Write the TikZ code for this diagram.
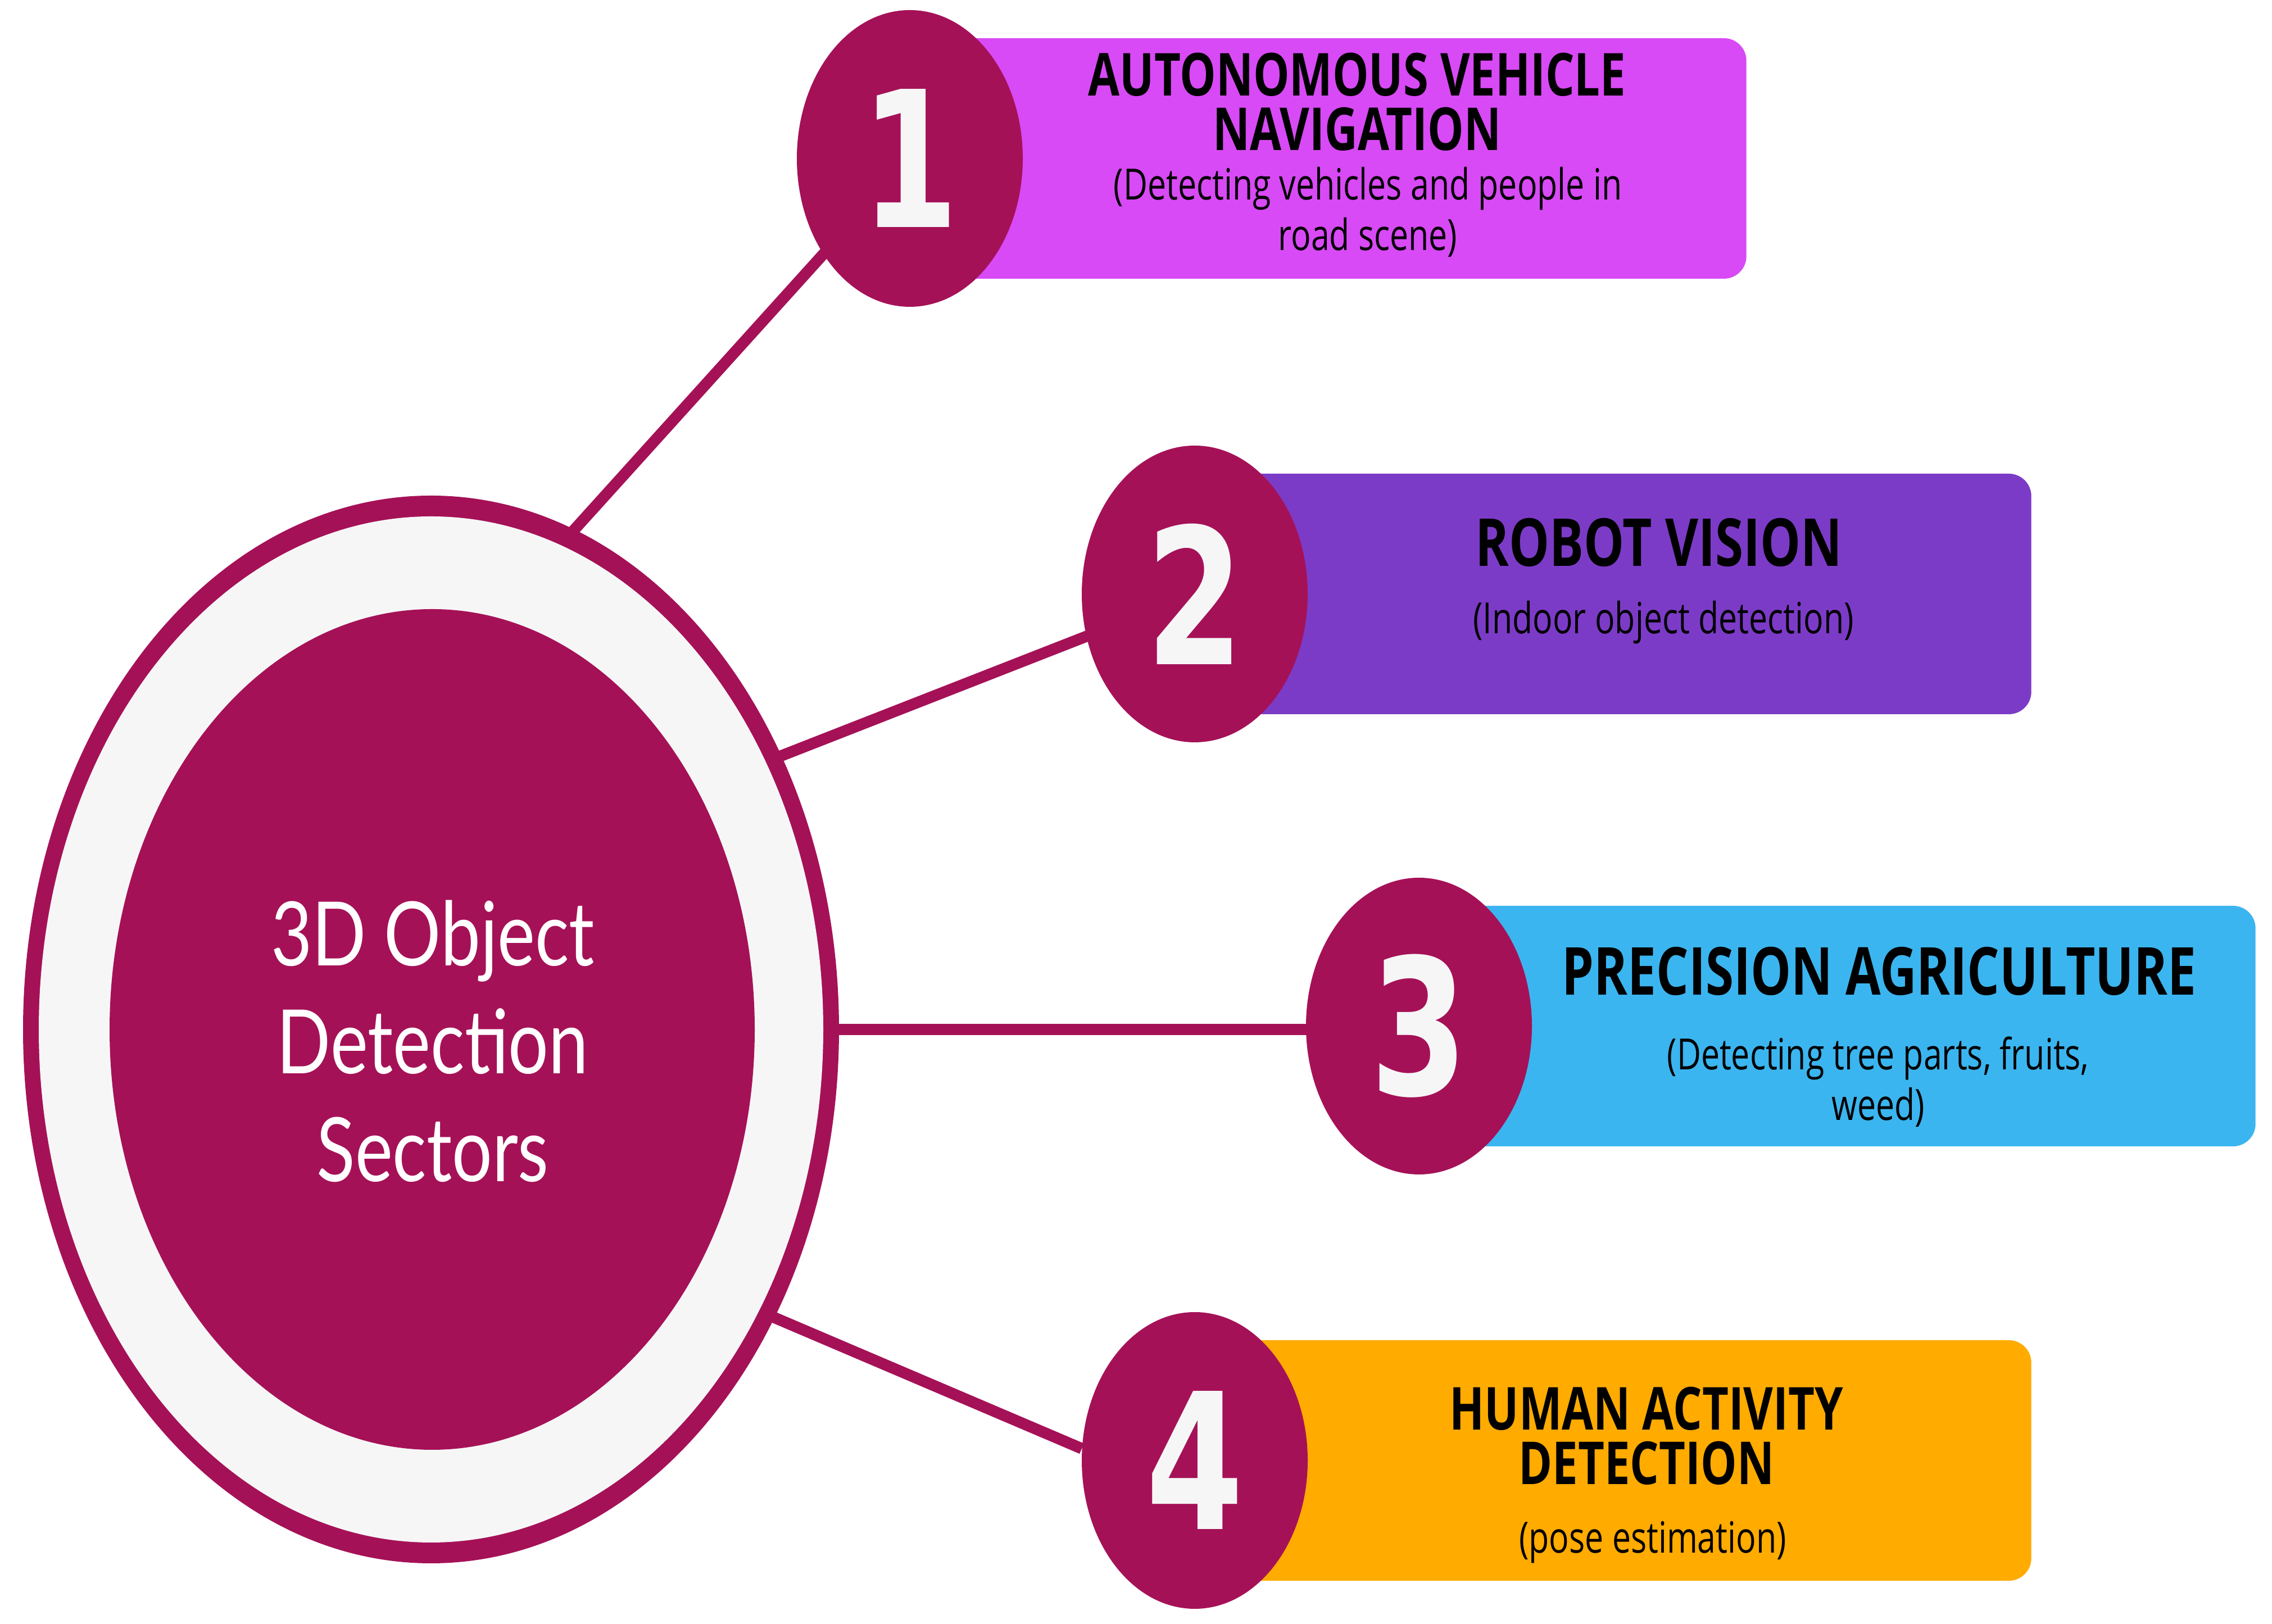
\documentclass[tikz,border=0pt]{standalone}
\usepackage{fontspec}
\usepackage{xcolor}
\usetikzlibrary{shapes.geometric,backgrounds,positioning}
\newfontfamily\hubfont[FakeStretch=0.8]{Lato}
\newfontfamily\boxfont[FakeStretch=0.77]{Open Sans}
\newfontfamily\numfont[FakeStretch=0.74]{DejaVu Sans}
\definecolor{wine}{HTML}{A51157}
\definecolor{ringgray}{HTML}{F6F6F6}
\definecolor{navpink}{HTML}{D84AF5}
\definecolor{robotpurple}{HTML}{7C3BC7}
\definecolor{agrisky}{HTML}{3BB5EF}
\definecolor{humanorange}{HTML}{FFAB00}

\begin{document}
\begin{tikzpicture}[hub node/.style={ellipse,fill=wine,inner sep=0pt,outer sep=0pt,minimum width=14.52cm,minimum height=19cm},
    core node/.style={ellipse,fill=wine,inner sep=0pt,minimum width=11.48cm,minimum height=14.96cm},
    hub label/.style={align=center,text=white,font=\hubfont\fontsize{45}{54.6}\selectfont},
    num node/.style={ellipse,fill=wine,inner sep=0pt,minimum width=4.02cm,minimum height=5.28cm,text=ringgray,font=\numfont\bfseries\fontsize{96}{96}\selectfont},
    box node/.style={rectangle,rounded corners=0.4cm,minimum width=14.88cm,minimum height=4.28cm,anchor=west,inner sep=0pt},
    title node/.style={align=center,font=\boxfont\bfseries\fontsize{30}{27.6}\selectfont},
    big title/.style={font=\boxfont\bfseries\fontsize{33.5}{33.5}\selectfont},
    note node/.style={align=center,font=\boxfont\fontsize{21.8}{25.5}\selectfont},
    link/.style={draw=wine,line width=0.2cm,shorten <=-3mm}]
    \useasboundingbox (0,0) rectangle (40.43,28.9);

    % hub with its grey ring
    \node[hub node] (hub) at (7.67,10.58) {};
    \fill[ringgray] (hub.center) ellipse [x radius=6.98cm, y radius=9.13cm];
    \node[core node] (core) at (7.69,10.58) {};
    \node[hub label] (label) at (7.70,10.37) {3D Object\\Detection\\Sectors};

    \node[num node] (1) at (16.19,26.08) {1};
    \node[num node] (2) at (21.26,18.33) {2};
    \node[num node] (3) at (25.25,10.64) {3};
    \node[num node] (4) at (21.26,2.91) {4};

    \begin{scope}[on background layer]
        \node[box node,fill=navpink] (b1) at (1.center) {};
        \node[box node,fill=robotpurple] (b2) at (2.center) {};
        \node[box node,fill=agrisky] (b3) at (3.center) {};
        \node[box node,fill=humanorange] (b4) at (4.center) {};

        \path[link]
            (hub.74) edge (1.center)
            (hub.38) edge (2.center)
            (hub.east) edge (hub.east -| 3.center)
            (hub.-40) edge (4.174)
            ;
    \end{scope}

    \node[title node] (t1) at (24.15,27.09) {AUTONOMOUS VEHICLE\\NAVIGATION};
    \node[note node] (s1) at (24.34,25.125) {(Detecting vehicles and people in\\road scene)};
    \node[title node,big title] (t2) at (29.52,19.245) {ROBOT VISION};
    \node[note node] (s2) at (29.60,17.82) {(Indoor object detection)};
    \node[title node,big title] (t3) at (33.44,11.615) {PRECISION AGRICULTURE};
    \node[note node] (s3) at (33.42,9.645) {(Detecting tree parts, fruits,\\weed)};
    \node[title node] (t4) at (29.30,3.35) {HUMAN ACTIVITY\\DETECTION};
    \node[note node] (s4) at (29.41,1.45) {(pose estimation)};
\end{tikzpicture}
\end{document}
